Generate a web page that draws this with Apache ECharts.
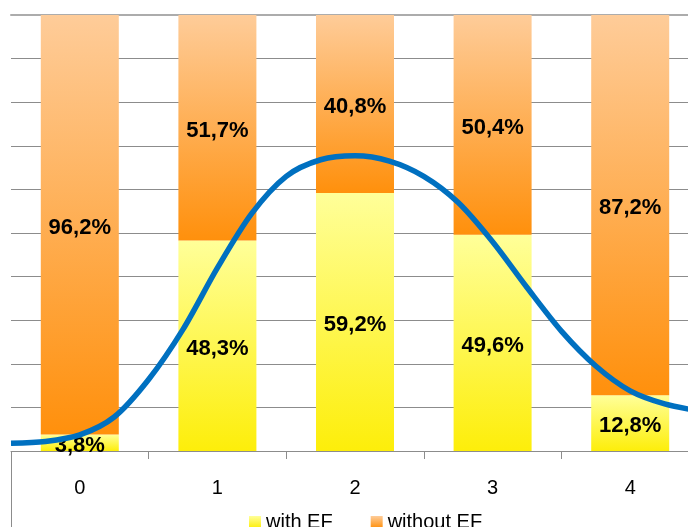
<!DOCTYPE html>
<html>
<head>
<meta charset="utf-8">
<script src="https://cdn.jsdelivr.net/npm/echarts@6/dist/echarts.min.js"></script>
<style>
  html, body { margin: 0; padding: 0; background: #fff; }
  #chart { width: 688px; height: 527px; }
</style>
</head>
<body>
<div id="chart"></div>
<script>
// Category labels along the bottom axis
const categories = ['0', '1', '2', '3', '4'];
// Share of each group, in percent
const withEF = [3.8, 48.3, 59.2, 49.6, 12.8];
const withoutEF = [96.2, 51.7, 40.8, 50.4, 87.2];
// Bell-shaped trend line: positions on a continuous scale spanning the categories, and heights in percent
const curveX = [-0.5, -0.25, 0, 0.25, 0.5, 0.75, 1, 1.25, 1.5, 1.75, 2, 2.25, 2.5, 2.75, 3, 3.25, 3.5, 3.75, 4, 4.25, 4.5];
const curveY = [1.8, 2.2, 3.7, 7.8, 16.4, 27.9, 42, 54.5, 63, 66.8, 67.7, 66.5, 63, 57, 48, 37.5, 27.5, 19.5, 13.8, 10.8, 9.2];

const FONT = "'Liberation Sans', Arial, sans-serif";
const AXIS_GRAY = '#8c8c8c';

const yellowFill = new echarts.graphic.LinearGradient(0, 0, 0, 1, [
  { offset: 0, color: '#FFFF99' },
  { offset: 1, color: '#FDEE0A' }
]);
const orangeFill = new echarts.graphic.LinearGradient(0, 0, 0, 1, [
  { offset: 0, color: '#FECC99' },
  { offset: 1, color: '#FF900C' }
]);

const pct = p => p.value.toFixed(1).replace('.', ',') + '%';
const barLabel = {
  show: true,
  position: 'inside',
  offset: [0, 3],
  formatter: pct,
  color: '#000',
  fontFamily: FONT,
  fontWeight: 'bold',
  fontSize: 22
};

const chart = echarts.init(document.getElementById('chart'), null, { renderer: 'canvas' });
chart.setOption({
  animation: false,
  backgroundColor: '#fff',
  // the plot runs past the right edge of the canvas
  grid: { left: 11, width: 688, top: 15, bottom: 76, containLabel: false, outerBoundsMode: 'none' },
  legend: {
    data: ['with EF', 'without EF'],
    left: 244,
    top: 507,
    itemWidth: 12,
    itemHeight: 12,
    itemGap: 38,
    icon: 'rect',
    textStyle: { fontFamily: FONT, fontSize: 20, color: '#000' }
  },
  xAxis: [
    {
      type: 'category',
      data: categories,
      axisLine: { lineStyle: { color: AXIS_GRAY, width: 1 } },
      axisTick: { show: true, length: 8, lineStyle: { color: AXIS_GRAY } },
      axisLabel: { margin: 27, fontFamily: FONT, fontSize: 20, color: '#000' },
      splitLine: { show: false }
    },
    {
      // continuous scale for the trend line; its line closes the plot at the top
      type: 'value',
      min: -0.5,
      max: 4.5,
      position: 'top',
      axisLine: { show: true, onZero: false, lineStyle: { color: '#acacac', width: 2 } },
      axisTick: { show: false },
      axisLabel: { show: false },
      splitLine: { show: false }
    }
  ],
  yAxis: {
    type: 'value',
    min: 0,
    max: 100,
    interval: 10,
    axisLine: { show: true, lineStyle: { color: AXIS_GRAY, width: 1 } },
    axisTick: { show: false },
    axisLabel: { show: false },
    splitLine: { lineStyle: { color: AXIS_GRAY, width: 1 } }
  },
  series: [
    {
      name: 'with EF',
      type: 'bar',
      stack: 'share',
      barWidth: 78,
      data: withEF,
      itemStyle: { color: yellowFill },
      label: barLabel,
      z: 2
    },
    {
      name: 'without EF',
      type: 'bar',
      stack: 'share',
      barWidth: 78,
      data: withoutEF,
      itemStyle: { color: orangeFill },
      label: barLabel,
      z: 2
    },
    {
      name: 'trend',
      type: 'line',
      xAxisIndex: 1,
      smooth: 0.3,
      showSymbol: false,
      symbol: 'none',
      data: curveX.map((x, i) => [x, curveY[i]]),
      lineStyle: { color: '#0070C0', width: 5.5 },
      z: 5
    }
  ],
  graphic: [
    {
      // left border continues below the category axis
      type: 'line',
      shape: { x1: 11.5, y1: 452, x2: 11.5, y2: 527 },
      style: { stroke: AXIS_GRAY, lineWidth: 1 }
    }
  ]
});
</script>
</body>
</html>
